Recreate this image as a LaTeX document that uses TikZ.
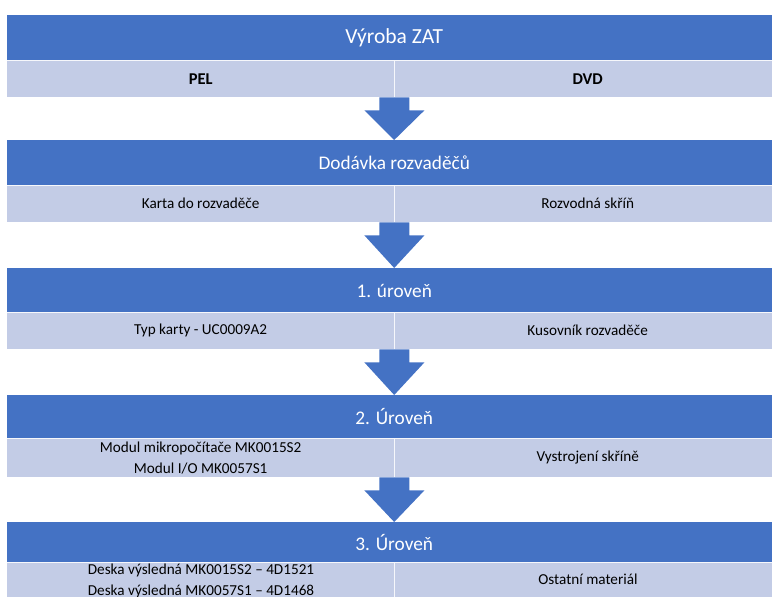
\documentclass[tikz,border=0pt]{standalone}
\usepackage{fontspec}
\setmainfont{Carlito}
\usetikzlibrary{calc}
\definecolor{bandDark}{RGB}{68,114,196}
\definecolor{bandLight}{RGB}{195,204,230}
\newcommand{\bodysize}{\fontsize{15.2}{21}\selectfont}
\newcommand{\headsize}{\fontsize{19.3}{22}\selectfont}
\tikzset{
  headbar/.style={fill=bandDark, draw=none, anchor=north west, minimum width=774pt,
    minimum height=45pt, inner sep=0pt, text=white, font=\headsize},
  cellbar/.style={fill=bandLight, draw=none, anchor=north west, minimum width=387pt,
    minimum height=37pt, inner sep=0pt, text=black, font=\bodysize,
    align=center},
  sep/.style={draw=white!85!bandLight, line width=0.8pt},
  flowarrow/.style={fill=bandDark, draw=none}
}
% block arrow between two bands: shaft, then a triangular head
\newcommand{\blockarrow}[2]{%
  \fill[flowarrow] ($(#1)+(-15,0)$) -- ($(#1)+(15,0)$) -- ($(#1)+(15,13)$) --
    ($(#1)+(30,13)$) -- (#2) -- ($(#1)+(-30,13)$) -- ($(#1)+(-15,13)$) -- cycle;}
\begin{document}
\begin{tikzpicture}[x=1pt,y=-1pt]
\useasboundingbox (0,0) rectangle (772,597);
\clip (0,0) rectangle (772,597);

% level 0
\node[headbar, font=\fontsize{21.5}{24}\selectfont] (h0) at (7,15) {Výroba ZAT};
\node[cellbar, font=\fontsize{16.5}{21}\selectfont\bfseries] (l0) at (7,60) {PEL};
\node[cellbar, font=\fontsize{16.5}{21}\selectfont\bfseries] (r0) at (394,60) {DVD};

% delivery
\node[headbar] (h1) at (7,140) {Dodávka rozvaděčů};
\node[cellbar] (l1) at (7,185) {Karta do rozvaděče};
\node[cellbar] (r1) at (394,185) {Rozvodná skříň};

% level 1
\node[headbar] (h2) at (7,268) {1. úroveň};
\node[cellbar] (l2) at (7,312) {Typ karty - UC0009A2};
\node[cellbar] (r2) at (394,312) {Kusovník rozvaděče};

% level 2
\node[headbar, minimum height=43pt] (h3) at (7,395) {2. Úroveň};
\node[cellbar, minimum height=39pt] (l3) at (7,438) {Modul mikropočítače MK0015S2\\Modul I/O MK0057S1};
\node[cellbar, minimum height=39pt] (r3) at (394,438) {Vystrojení skříně};

% level 3
\node[headbar, minimum height=40pt] (h4) at (7,522) {3. Úroveň};
\node[cellbar, minimum height=58pt] (l4) at (7,562) {};
\node[cellbar, minimum height=58pt] (r4) at (394,562) {};
\node[font=\bodysize, align=center, anchor=center] (l4t) at (201,581) {Deska výsledná MK0015S2 – 4D1521\\Deska výsledná MK0057S1 – 4D1468};
\node[font=\bodysize, anchor=center] (r4t) at (588,579) {Ostatní materiál};

% thin separators between the bands and the columns
\foreach \i in {0,...,4} {
  \draw[sep] (l\i.north west) -- (r\i.north east);
  \draw[sep] (r\i.north west) -- (r\i.south west);
}

% arrows between levels
\blockarrow{l0.south east}{h1.north}
\blockarrow{l1.south east}{h2.north}
\blockarrow{l2.south east}{h3.north}
\blockarrow{l3.south east}{h4.north}
\end{tikzpicture}
\end{document}
